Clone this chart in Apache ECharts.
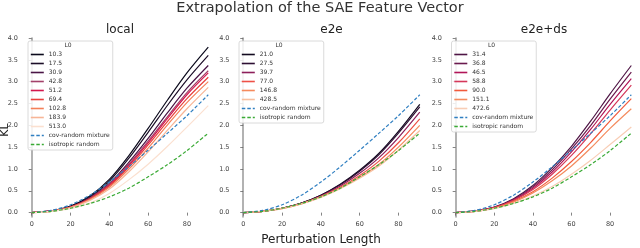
<!DOCTYPE html>
<html><head><meta charset="utf-8">
<script src="https://cdn.jsdelivr.net/npm/echarts@6/dist/echarts.min.js"></script>
<style>html,body{margin:0;padding:0;background:#fff}#c{width:640px;height:248px}</style>
</head><body><div id="c"></div>
<script>
// Perturbation length samples
const xs = [0, 10, 20, 30, 40, 50, 60, 70, 80, 91];
const xTicks = [0, 20, 40, 60, 80];
const yTicks = [0, 0.5, 1, 1.5, 2, 2.5, 3, 3.5, 4];
const panelTitles = ['local', 'e2e', 'e2e+ds'];

// Baselines (same in every panel)
const covRandom = [0, 0.05, 0.18, 0.40, 0.70, 1.05, 1.43, 1.82, 2.22, 2.70];
const isoRandom = [0, 0.03, 0.10, 0.21, 0.36, 0.56, 0.82, 1.10, 1.42, 1.82];

// local
const localL0 = ['10.3', '17.5', '30.9', '42.8', '51.2', '69.4', '102.8', '183.9', '513.0'];
const localColors = ['#0b0a1c', '#1c0e28', '#4a1546', '#a3416a', '#d3174d', '#e8403c', '#f47f58', '#f7b596', '#fbe0d0'];
const localKL = [
  [0, 0.04, 0.15, 0.38, 0.76, 1.30, 1.93, 2.58, 3.20, 3.79],
  [0, 0.04, 0.14, 0.36, 0.72, 1.24, 1.84, 2.46, 3.04, 3.60],
  [0, 0.04, 0.13, 0.34, 0.67, 1.15, 1.70, 2.29, 2.85, 3.37],
  [0, 0.04, 0.13, 0.33, 0.65, 1.11, 1.64, 2.20, 2.75, 3.25],
  [0, 0.04, 0.13, 0.32, 0.63, 1.08, 1.60, 2.16, 2.70, 3.20],
  [0, 0.04, 0.12, 0.31, 0.61, 1.04, 1.55, 2.09, 2.61, 3.10],
  [0, 0.03, 0.12, 0.30, 0.58, 0.99, 1.48, 2.01, 2.52, 3.00],
  [0, 0.03, 0.11, 0.28, 0.54, 0.93, 1.39, 1.89, 2.38, 2.87],
  [0, 0.03, 0.09, 0.22, 0.44, 0.75, 1.11, 1.52, 1.96, 2.45]
];

// e2e
const e2eL0 = ['21.0', '27.5', '39.7', '77.0', '146.8', '428.5'];
const e2eColors = ['#130a20', '#2d0f33', '#8d1f5b', '#ee5046', '#f58a5c', '#f7bf9f'];
const e2eKL = [
  [0, 0.03, 0.10, 0.22, 0.40, 0.65, 0.97, 1.36, 1.86, 2.48],
  [0, 0.03, 0.10, 0.22, 0.40, 0.64, 0.95, 1.33, 1.82, 2.42],
  [0, 0.03, 0.10, 0.21, 0.38, 0.61, 0.90, 1.26, 1.72, 2.30],
  [0, 0.03, 0.10, 0.21, 0.37, 0.58, 0.85, 1.18, 1.60, 2.15],
  [0, 0.03, 0.09, 0.20, 0.36, 0.56, 0.81, 1.11, 1.50, 2.00],
  [0, 0.03, 0.09, 0.20, 0.35, 0.55, 0.79, 1.07, 1.43, 1.88]
];

// e2e+ds
const dsL0 = ['31.4', '36.8', '46.5', '58.8', '90.0', '151.1', '472.6'];
const dsColors = ['#4e1545', '#6a1a4e', '#b11558', '#d5385a', '#f15a3c', '#f48c5f', '#f8cdb5'];
const dsKL = [
  [0, 0.04, 0.13, 0.32, 0.62, 1.03, 1.52, 2.10, 2.72, 3.37],
  [0, 0.04, 0.12, 0.30, 0.59, 0.98, 1.46, 2.00, 2.60, 3.22],
  [0, 0.04, 0.12, 0.29, 0.56, 0.93, 1.39, 1.91, 2.48, 3.07],
  [0, 0.03, 0.11, 0.28, 0.53, 0.88, 1.31, 1.81, 2.35, 2.92],
  [0, 0.03, 0.11, 0.26, 0.48, 0.79, 1.17, 1.61, 2.10, 2.61],
  [0, 0.03, 0.10, 0.24, 0.45, 0.73, 1.07, 1.48, 1.93, 2.38],
  [0, 0.03, 0.09, 0.21, 0.38, 0.60, 0.88, 1.20, 1.56, 1.96]
];

const panels = [
  {names: localL0, colors: localColors, vals: localKL},
  {names: e2eL0, colors: e2eColors, vals: e2eKL},
  {names: dsL0, colors: dsColors, vals: dsKL}
];

const gridLefts = [23, 234.5, 447];
const legendLefts = [28, 239, 451.5];
const pairs = v => xs.map((x, i) => [x, v[i]]);

const grid = [], xAxis = [], yAxis = [], series = [], legend = [], graphic = [];
panels.forEach((p, k) => {
  grid.push({left: gridLefts[k], width: 194, top: 38, height: 179});
  xAxis.push({
    type: 'value', gridIndex: k, min: -4.5, max: 95.5,
    axisLine: {show: false}, splitLine: {show: false},
    axisTick: {show: true, length: 3, customValues: xTicks, lineStyle: {color: '#666', width: 0.8}},
    axisLabel: {customValues: xTicks, fontSize: 6.5, color: '#444', margin: 4, fontFamily: 'DejaVu Sans'}
  });
  yAxis.push({
    type: 'value', gridIndex: k, min: -0.1, max: 4.0,
    axisLine: {show: true, lineStyle: {color: '#999', width: 1.5}}, splitLine: {show: false},
    axisTick: {show: true, length: 3, customValues: yTicks, lineStyle: {color: '#666', width: 0.8}},
    axisLabel: {customValues: yTicks, fontSize: 6.5, color: '#444', margin: 5, fontFamily: 'DejaVu Sans',
      formatter: v => v.toFixed(1)}
  });
  const names = [];
  p.names.forEach((n, i) => {
    names.push(n);
    series.push({
      type: 'line', name: n, xAxisIndex: k, yAxisIndex: k, data: pairs(p.vals[i]),
      symbol: 'none', smooth: 0.3,
      lineStyle: {color: p.colors[i], width: 1.2}, itemStyle: {color: p.colors[i]}, z: 3
    });
  });
  [['cov-random mixture', covRandom, '#2f7fc1'], ['isotropic random', isoRandom, '#3aaa35']].forEach(([n, v, c]) => {
    names.push(n);
    series.push({
      type: 'line', name: n, xAxisIndex: k, yAxisIndex: k, data: pairs(v),
      symbol: 'none', smooth: 0.3,
      lineStyle: {color: c, width: 1.2, type: [3.5, 2]}, itemStyle: {color: c}, z: 4
    });
  });
  legend.push({
    data: names, orient: 'vertical', left: legendLefts[k], top: 41,
    itemWidth: 13, itemHeight: 7, itemGap: 2, padding: [10, 3, 2, 2],
    borderColor: '#d0d0d0', borderWidth: 0.8, borderRadius: 2, backgroundColor: 'rgba(255,255,255,0.85)',
    selectedMode: false, lineStyle: {width: 1.6}, itemStyle: {opacity: 0},
    textStyle: {fontSize: 6, lineHeight: 7, color: '#333', fontFamily: 'DejaVu Sans'}
  });
  graphic.push({type: 'text', x: gridLefts[k] + 97, y: 30,
    style: {text: panelTitles[k], font: '12px DejaVu Sans', fill: '#222', textAlign: 'center', textVerticalAlign: 'middle'}});
  graphic.push({type: 'text', x: legendLefts[k] + 40, y: 45, z: 100,
    style: {text: 'L0', font: '6px DejaVu Sans', fill: '#333', textAlign: 'center', textVerticalAlign: 'middle'}});
});

graphic.push({type: 'text', x: 320, y: 8,
  style: {text: 'Extrapolation of the SAE Feature Vector', font: '14.5px DejaVu Sans', fill: '#333', textAlign: 'center', textVerticalAlign: 'middle'}});
graphic.push({type: 'text', x: 321, y: 240,
  style: {text: 'Perturbation Length', font: '12px DejaVu Sans', fill: '#222', textAlign: 'center', textVerticalAlign: 'middle'}});
graphic.push({type: 'text', x: 5, y: 130, rotation: Math.PI / 2,
  style: {text: 'KL', font: '11px DejaVu Sans', fill: '#222', textAlign: 'center', textVerticalAlign: 'middle'}});

const chart = echarts.init(document.getElementById('c'), null, {renderer: 'canvas'});
chart.setOption({animation: false, backgroundColor: '#fff', grid, xAxis, yAxis, series, legend, graphic});
</script></body></html>
